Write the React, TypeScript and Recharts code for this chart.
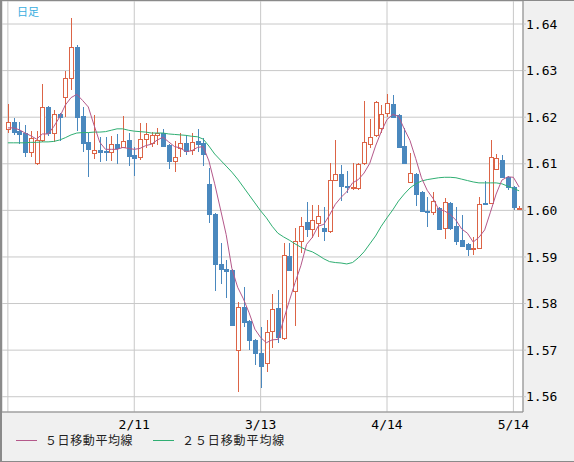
import React from 'react';
import { ComposedChart, Bar, Line, XAxis, YAxis, CartesianGrid } from 'recharts';

// daily candles, oldest first
const OPEN = [
  1.6175, 1.6190, 1.6170, 1.6166, 1.6125, 1.6102, 1.6151, 1.6222, 1.6166, 1.6207,
  1.6243, 1.6284, 1.6351, 1.6203, 1.6147, 1.6123, 1.6130, 1.6127, 1.6125, 1.6142,
  1.6136, 1.6151, 1.6119, 1.6115, 1.6153, 1.6145, 1.6162, 1.6166, 1.6140, 1.6106,
  1.6134, 1.6145, 1.6130, 1.6149, 1.6145, 1.6057, 1.5992, 1.5885, 1.5874, 1.5872,
  1.5700, 1.5793, 1.5763, 1.5722, 1.5694, 1.5672, 1.5741, 1.5790, 1.5726, 1.5902,
  1.5827, 1.5934, 1.5975, 1.5960, 1.5973, 1.5962, 1.5956, 1.6065, 1.6078, 1.6052,
  1.6048, 1.6048, 1.6102, 1.6142, 1.6162, 1.6177, 1.6209, 1.6228, 1.6205, 1.6138,
  1.6061, 1.6078, 1.6039, 1.5999, 1.5996, 1.6005, 1.5962, 1.6016, 1.5966, 1.5936,
  1.5928, 1.5918, 1.5919, 1.6016, 1.6016, 1.6089, 1.6108, 1.6072, 1.6050, 1.6004,
];
const HIGH = [
  1.6228, 1.6198, 1.6190, 1.6183, 1.6170, 1.6170, 1.6271, 1.6224, 1.6215, 1.6209,
  1.6299, 1.6413, 1.6355, 1.6222, 1.6166, 1.6205, 1.6158, 1.6158, 1.6160, 1.6164,
  1.6203, 1.6166, 1.6136, 1.6188, 1.6188, 1.6168, 1.6177, 1.6175, 1.6142, 1.6149,
  1.6166, 1.6162, 1.6166, 1.6175, 1.6155, 1.6091, 1.5994, 1.5930, 1.5893, 1.5874,
  1.5803, 1.5836, 1.5765, 1.5724, 1.5750, 1.5765, 1.5821, 1.5829, 1.5930, 1.5930,
  1.5962, 1.5986, 1.6018, 1.6012, 1.6012, 1.6007, 1.6102, 1.6151, 1.6097, 1.6084,
  1.6102, 1.6102, 1.6235, 1.6196, 1.6235, 1.6226, 1.6250, 1.6248, 1.6207, 1.6177,
  1.6123, 1.6080, 1.6042, 1.6029, 1.6039, 1.6007, 1.6027, 1.6018, 1.6007, 1.5990,
  1.5930, 1.5943, 1.6029, 1.6063, 1.6151, 1.6121, 1.6119, 1.6074, 1.6052, 1.6009,
];
const LOW = [
  1.6166, 1.6162, 1.6142, 1.6115, 1.6115, 1.6097, 1.6147, 1.6160, 1.6147, 1.6149,
  1.6200, 1.6258, 1.6170, 1.6125, 1.6072, 1.6110, 1.6104, 1.6106, 1.6106, 1.6100,
  1.6134, 1.6095, 1.6074, 1.6108, 1.6134, 1.6136, 1.6140, 1.6136, 1.6089, 1.6082,
  1.6115, 1.6119, 1.6119, 1.6125, 1.6095, 1.5973, 1.5827, 1.5842, 1.5812, 1.5752,
  1.5610, 1.5750, 1.5700, 1.5668, 1.5619, 1.5653, 1.5705, 1.5715, 1.5722, 1.5870,
  1.5752, 1.5909, 1.5943, 1.5941, 1.5943, 1.5934, 1.5951, 1.6063, 1.6020, 1.6037,
  1.6044, 1.6044, 1.6097, 1.6134, 1.6158, 1.6166, 1.6200, 1.6198, 1.6134, 1.6100,
  1.6059, 1.6009, 1.5996, 1.5964, 1.5990, 1.5958, 1.5939, 1.5958, 1.5926, 1.5921,
  1.5902, 1.5904, 1.5917, 1.6012, 1.6014, 1.6087, 1.6070, 1.6044, 1.6001, 1.6001,
];
const CLOSE = [
  1.6190, 1.6168, 1.6164, 1.6125, 1.6155, 1.6151, 1.6222, 1.6166, 1.6207, 1.6200,
  1.6284, 1.6351, 1.6200, 1.6145, 1.6132, 1.6130, 1.6125, 1.6125, 1.6142, 1.6134,
  1.6149, 1.6117, 1.6112, 1.6153, 1.6164, 1.6162, 1.6166, 1.6138, 1.6106, 1.6115,
  1.6145, 1.6127, 1.6147, 1.6142, 1.6121, 1.5992, 1.5885, 1.5874, 1.5870, 1.5754,
  1.5793, 1.5760, 1.5722, 1.5694, 1.5666, 1.5739, 1.5788, 1.5728, 1.5904, 1.5872,
  1.5934, 1.5966, 1.5960, 1.5979, 1.5988, 1.5956, 1.6065, 1.6078, 1.6052, 1.6050,
  1.6050, 1.6100, 1.6147, 1.6158, 1.6233, 1.6207, 1.6230, 1.6200, 1.6136, 1.6102,
  1.6080, 1.6035, 1.5999, 1.5996, 1.6020, 1.5960, 1.6018, 1.5962, 1.5934, 1.5924,
  1.5917, 1.5920, 1.6014, 1.6014, 1.6115, 1.6112, 1.6072, 1.6050, 1.6007, 1.6006,
];
const MA5 = [
  1.6177, 1.6177, 1.6173, 1.6166, 1.6160, 1.6153, 1.6164, 1.6164, 1.6180, 1.6200,
  1.6226, 1.6242, 1.6249, 1.6236, 1.6222, 1.6183, 1.6146, 1.6131, 1.6131, 1.6131,
  1.6135, 1.6133, 1.6131, 1.6133, 1.6139, 1.6142, 1.6151, 1.6157, 1.6147, 1.6137,
  1.6134, 1.6126, 1.6128, 1.6135, 1.6137, 1.6106, 1.6057, 1.6003, 1.5948, 1.5875,
  1.5835, 1.5810, 1.5780, 1.5745, 1.5727, 1.5716, 1.5722, 1.5723, 1.5765, 1.5806,
  1.5845, 1.5881, 1.5927, 1.5942, 1.5966, 1.5970, 1.5990, 1.6013, 1.6028, 1.6040,
  1.6059, 1.6066, 1.6080, 1.6101, 1.6138, 1.6169, 1.6195, 1.6206, 1.6202, 1.6175,
  1.6150, 1.6111, 1.6070, 1.6043, 1.6026, 1.6002, 1.5999, 1.5991, 1.5979, 1.5960,
  1.5951, 1.5932, 1.5942, 1.5958, 1.5996, 1.6035, 1.6065, 1.6072, 1.6071, 1.6050,
];
const MA25 = [
  1.6145, 1.6145, 1.6145, 1.6145, 1.6146, 1.6146, 1.6147, 1.6147, 1.6148, 1.6151,
  1.6156, 1.6162, 1.6166, 1.6167, 1.6167, 1.6168, 1.6168, 1.6169, 1.6172, 1.6175,
  1.6175, 1.6172, 1.6170, 1.6169, 1.6168, 1.6166, 1.6166, 1.6166, 1.6164, 1.6163,
  1.6162, 1.6161, 1.6159, 1.6158, 1.6153, 1.6138, 1.6121, 1.6108, 1.6095, 1.6082,
  1.6067, 1.6050, 1.6033, 1.6016, 1.5999, 1.5984, 1.5966, 1.5951, 1.5943, 1.5936,
  1.5928, 1.5921, 1.5915, 1.5911, 1.5904, 1.5896, 1.5890, 1.5888, 1.5887, 1.5885,
  1.5888, 1.5898, 1.5911, 1.5928, 1.5945, 1.5966, 1.5984, 1.6001, 1.6020, 1.6035,
  1.6048, 1.6057, 1.6063, 1.6066, 1.6068, 1.6070, 1.6071, 1.6071, 1.6070, 1.6067,
  1.6064, 1.6061, 1.6059, 1.6059, 1.6059, 1.6059, 1.6057, 1.6052, 1.6047, 1.6042,
];

const Y_TICKS = [1.56, 1.57, 1.58, 1.59, 1.6, 1.61, 1.62, 1.63, 1.64];
// every 22nd candle carries a grid line; the first one has no label
const X_TICK_INDEX = [0, 22, 44, 66, 88];
const X_TICK_LABELS = ['', '2/11', '3/13', '4/14', '5/14'];

const UP = '#dc6446';
const DOWN = '#4a88be';
const MA5_COLOR = '#b4588a';
const MA25_COLOR = '#2fae72';
const AXIS_FONT = '"DejaVu Sans Mono", monospace';
const JP_FONT = '"Noto Sans CJK JP", sans-serif';

const data = OPEN.map((o, i) => ({
  i,
  open: o,
  high: HIGH[i],
  low: LOW[i],
  close: CLOSE[i],
  ma5: MA5[i],
  ma25: MA25[i],
}));

const Candle = (props: any) => {
  const { x, y, width, height, payload } = props;
  if (!payload) return null;
  const top = Math.min(y, y + height);
  const bot = Math.max(y, y + height);
  const { open, close, high, low } = payload;
  const k = (bot - top) / (high - low || 1);
  const py = (v: number) => bot - (v - low) * k;
  const cx = Math.round(x + width / 2) + 0.5;
  const up = close >= open;
  const color = up ? UP : DOWN;
  const bTop = Math.round(py(Math.max(open, close)));
  const bBot = Math.round(py(Math.min(open, close)));
  const h = bBot - bTop;

  return (
    <g>
      <line x1={cx} x2={cx} y1={Math.round(top)} y2={Math.round(bot)} stroke={color} strokeWidth={1} />
      {h < 1 ? (
        <line x1={cx - 2.5} x2={cx + 2.5} y1={bTop + 0.5} y2={bTop + 0.5} stroke={color} strokeWidth={1} />
      ) : up ? (
        <rect x={cx - 2} y={bTop + 0.5} width={4} height={h} fill="#fff" stroke={color} strokeWidth={1} />
      ) : (
        <rect x={cx - 2.5} y={bTop} width={5} height={h + 1} fill={color} />
      )}
    </g>
  );
};

const xLabel = (v: number) => {
  const k = X_TICK_INDEX.indexOf(v);
  return k >= 0 ? X_TICK_LABELS[k] : '';
};

export default function App() {
  return (
    <div style={{ position: 'absolute', left: 0, top: 0, width: 574, height: 462, background: '#f0f0f0', overflow: 'hidden' }}>
      <ComposedChart
        width={574}
        height={445}
        data={data}
        margin={{ top: 1, right: 0, bottom: 0, left: 2 }}
        barCategoryGap={0}
      >
        <CartesianGrid stroke="#c8c8c8" fill="#fff" />
        <XAxis
          dataKey="i"
          interval={21}
          padding={{ left: 3, right: 1 }}
          height={33}
          tickLine={false}
          tickSize={6}
          axisLine={{ stroke: '#8c8c8c' }}
          tickFormatter={xLabel}
          tick={{ fill: '#000', fontSize: 13, fontFamily: AXIS_FONT }}
        />
        <YAxis
          orientation="right"
          width={51}
          domain={[1.55672, 1.64494]}
          allowDataOverflow
          ticks={Y_TICKS}
          tickFormatter={(v: number) => v.toFixed(2)}
          tickSize={3}
          tickMargin={0}
          tickLine={{ stroke: '#c8c8c8' }}
          axisLine={{ stroke: '#8c8c8c' }}
          tick={{ fill: '#000', fontSize: 13, fontFamily: AXIS_FONT, textAnchor: 'start' }}
        />
        <Bar dataKey={(d: any) => [d.low, d.high]} shape={<Candle />} isAnimationActive={false} />
        <Line type="linear" dataKey="ma25" stroke={MA25_COLOR} strokeWidth={1} dot={false} activeDot={false} isAnimationActive={false} />
        <Line type="linear" dataKey="ma5" stroke={MA5_COLOR} strokeWidth={1} dot={false} activeDot={false} isAnimationActive={false} />
      </ComposedChart>

      <div style={{ position: 'absolute', left: 17, top: 3, fontSize: 11, color: '#3aaee0', fontFamily: JP_FONT }}>日足</div>

      <div style={{ position: 'absolute', left: 16, top: 440, width: 21, height: 1, background: MA5_COLOR }} />
      <div style={{ position: 'absolute', left: 45, top: 432, fontSize: 12, color: '#222', fontFamily: JP_FONT, letterSpacing: 0.6, lineHeight: '16px' }}>５日移動平均線</div>
      <div style={{ position: 'absolute', left: 153, top: 440, width: 21, height: 1, background: MA25_COLOR }} />
      <div style={{ position: 'absolute', left: 182, top: 432, fontSize: 12, color: '#222', fontFamily: JP_FONT, letterSpacing: 0.9, lineHeight: '16px' }}>２５日移動平均線</div>

      <div style={{ position: 'absolute', left: 0, top: 0, width: 574, height: 462, boxSizing: 'border-box', borderLeft: '2px solid #8a8a8a', borderTop: '1px solid #8a8a8a', borderBottom: '1px solid #8a8a8a', pointerEvents: 'none' }} />
    </div>
  );
}
